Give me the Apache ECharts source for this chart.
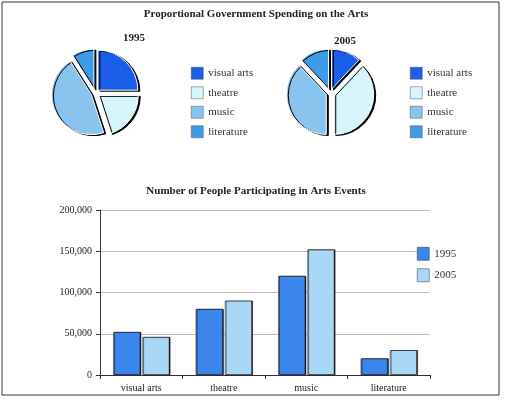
<!DOCTYPE html><html><head><meta charset="utf-8"><script src="https://cdn.jsdelivr.net/npm/echarts@6/dist/echarts.min.js"></script>
<style>body{margin:0;background:#fff}#c{width:512px;height:402px}</style></head><body><div id="c"></div><script>
const pieCats=['visual arts','theatre','music','literature'];
const pie1995=[25,20,46,9];
const pie2005=[12,38,38,12];
const barCats=['visual arts','theatre','music','literature'];
const bar1995=[52000,80000,120000,20000];
const bar2005=[46000,90000,152000,30000];
const pieColors=['#1a5ee8','#d6f6fb','#88c4ee','#3f9ae8'];
const F='Liberation Serif';
const ch=echarts.init(document.getElementById('c'));
function pie(vals,cx,name){return {type:'pie',name:name,center:[cx,93],radius:40,startAngle:90,clockwise:true,
 label:{show:false},labelLine:{show:false},selectedMode:'multiple',selectedOffset:4,
 itemStyle:{borderColor:'#fff',borderWidth:1,shadowColor:'#000',shadowOffsetX:2,shadowOffsetY:1,shadowBlur:0},
 emphasis:{disabled:true},
 data:vals.map((v,i)=>({name:pieCats[i],value:v,selected:true,itemStyle:{color:pieColors[i]}}))};}
const shadow={shadowColor:'#000',shadowOffsetX:1,shadowOffsetY:0,shadowBlur:0,borderColor:'#333',borderWidth:0.5};
const lg={orient:'vertical',top:62,itemWidth:12,itemHeight:12,itemGap:7,icon:'rect',textStyle:{fontFamily:F,fontSize:11,color:'#333'},itemStyle:{borderColor:'#555',borderWidth:0.5},selectedMode:false};
ch.setOption({
 animation:false,
 graphic:[{type:'rect',shape:{x:2,y:2,width:497,height:393},style:{fill:'none',stroke:'#333',lineWidth:1}},
  {type:'text',left:'center',top:9,style:{text:'Proportional Government Spending on the Arts',font:'bold 11px "Liberation Serif"',fill:'#222'}},
  {type:'text',x:123,y:33,style:{text:'1995',font:'bold 11px "Liberation Serif"',fill:'#222'}},
  {type:'text',x:334,y:36,style:{text:'2005',font:'bold 11px "Liberation Serif"',fill:'#222'}},
  {type:'text',left:'center',top:186,style:{text:'Number of People Participating in Arts Events',font:'bold 11px "Liberation Serif"',fill:'#222'}}],
 legend:[Object.assign({data:pieCats,left:186},lg),Object.assign({data:pieCats,left:405},lg),
  {data:['1995','2005'],orient:'vertical',left:412,top:242,itemWidth:12,itemHeight:13,itemGap:8,icon:'rect',textStyle:{fontFamily:F,fontSize:11,color:'#333'},itemStyle:{borderColor:'#333',borderWidth:0.5},selectedMode:false}],
 grid:{left:100,right:82,top:210,bottom:27},
 xAxis:{type:'category',data:barCats,axisTick:{show:true,length:4,lineStyle:{color:'#333'}},axisLine:{lineStyle:{color:'#333'}},axisLabel:{fontFamily:F,fontSize:10,color:'#222'}},
 yAxis:{type:'value',min:0,max:200000,interval:50000,axisLine:{show:true,lineStyle:{color:'#333'}},axisTick:{show:true,length:4},splitLine:{lineStyle:{color:'#bbb'}},
  axisLabel:{fontFamily:F,fontSize:10,color:'#222',formatter:v=>v===0?'0':v.toLocaleString('en-US')}},
 series:[pie(pie1995,95,'p1995'),pie(pie2005,330,'p2005'),
  {type:'bar',name:'1995',data:bar1995,barWidth:27,barGap:'8%',itemStyle:Object.assign({color:'#3a86ea'},shadow)},
  {type:'bar',name:'2005',data:bar2005,barWidth:27,itemStyle:Object.assign({color:'#a8d8f5'},shadow)}]
});
</script></body></html>
